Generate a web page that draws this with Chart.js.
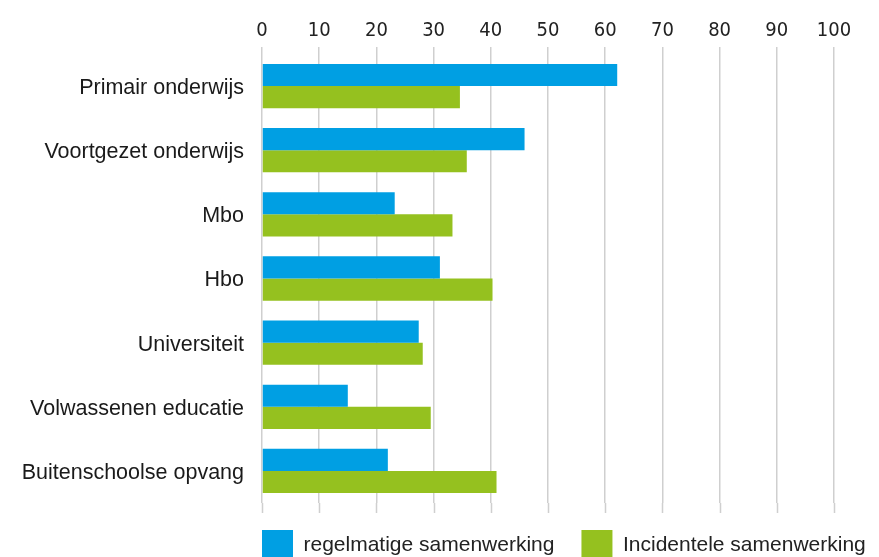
<!DOCTYPE html>
<html>
<head>
<meta charset="utf-8">
<script src="https://cdn.jsdelivr.net/npm/chart.js@4"></script>
<style>
  html, body { margin: 0; padding: 0; background: #fff; overflow: hidden; }
  #chartContainer { width: 879px; height: 557px; position: relative; }
</style>
</head>
<body>
<div id="chartContainer"><canvas id="barChart"></canvas></div>
<script>
// ===== Data =====
const categories = ['Primair onderwijs','Voortgezet onderwijs','Mbo','Hbo','Universiteit','Volwassenen educatie','Buitenschoolse opvang'];
const regelmatig = [62.1, 45.9, 23.2, 31.1, 27.4, 15.0, 22.0];
const incidenteel = [34.6, 35.8, 33.3, 40.3, 28.1, 29.5, 41.0];
const seriesNames = ['regelmatige samenwerking','Incidentele samenwerking'];
const xTicks = [0, 10, 20, 30, 40, 50, 60, 70, 80, 90, 100];

const gridColor = '#cfcfcf';
const tickFont = "'Liberation Sans Narrow', 'DejaVu Sans Condensed', 'Liberation Sans', sans-serif";

// extend the vertical grid lines a little below the plot, like the original
const gridTail = {
    id: 'gridTail',
    beforeDatasetsDraw(chart) {
        const x = chart.scales.x, ctx = chart.ctx, b = chart.chartArea.bottom;
        ctx.save();
        ctx.strokeStyle = gridColor;
        ctx.lineWidth = 1.5;
        xTicks.forEach(v => {
            const px = Math.round(x.getPixelForValue(v)) + 0.5;
            ctx.beginPath();
            ctx.moveTo(px, b);
            ctx.lineTo(px, b + 10);
            ctx.stroke();
        });
        ctx.restore();
    }
};

// move the legend so it starts under the plot area
const legendShift = {
    id: 'legendShift',
    afterLayout(chart) {
        const lg = chart.legend;
        const pad = lg.options.labels.padding;
        const dx = chart.chartArea.left - (lg.left + pad);
        const dy = 530 - (lg.top + pad);
        lg.left += dx; lg.right += dx;
        lg.top += dy; lg.bottom += dy;
    }
};

const ctx = document.getElementById('barChart').getContext('2d');
const chart = new Chart(ctx, {
    type: 'bar',
    data: {
        labels: categories,
        datasets: [
            { label: seriesNames[0], data: regelmatig, backgroundColor: '#009fe3' },
            { label: seriesNames[1], data: incidenteel, backgroundColor: '#95c11f' }
        ]
    },
    options: {
        indexAxis: 'y',
        responsive: true,
        maintainAspectRatio: false,
        animation: false,
        barPercentage: 1,
        categoryPercentage: 0.69,
        layout: { padding: { top: 15, right: 45, bottom: -14, left: 0 } },
        plugins: {
            tooltip: { enabled: false },
            legend: {
                position: 'bottom',
                align: 'start',
                labels: {
                    boxWidth: 31, boxHeight: 31, padding: 27,
                    color: '#222',
                    font: { family: 'Liberation Sans', size: 21 }
                }
            }
        },
        scales: {
            x: {
                position: 'top',
                min: 0, max: 100,
                afterBuildTicks: s => { s.ticks = xTicks.map(v => ({ value: v })); },
                grid: { color: gridColor, lineWidth: 1.5, drawTicks: true, tickLength: 7 },
                border: { display: false },
                ticks: {
                    padding: 4,
                    color: '#222',
                    font: { family: tickFont, size: 20 }
                }
            },
            y: {
                afterFit: s => { s.width = 262; },
                grid: { display: false, drawTicks: false },
                border: { display: false },
                ticks: {
                    padding: 18,
                    labelOffset: 2,
                    color: '#1a1a1a',
                    font: { family: 'Liberation Sans', size: 21.5 }
                }
            }
        }
    },
    plugins: [gridTail, legendShift]
});
</script>
</body>
</html>
